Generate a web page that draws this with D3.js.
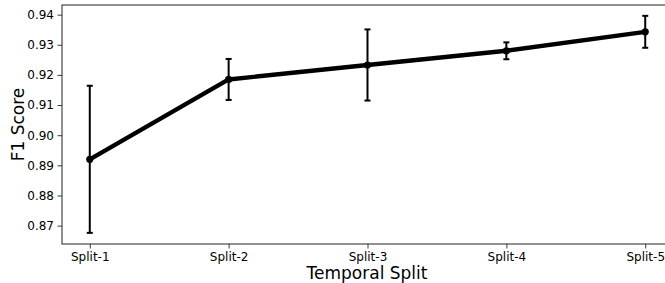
<!DOCTYPE html>
<html>
<head>
<meta charset="utf-8">
<script src="https://cdn.jsdelivr.net/npm/d3@7"></script>
<style>
  body { margin: 0; background: #fff; }
  svg { display: block; font-family: "DejaVu Sans", sans-serif; }
</style>
</head>
<body>
<svg id="chart" width="665" height="283"></svg>
<script>
// values
const splits = ["Split-1", "Split-2", "Split-3", "Split-4", "Split-5"];
const f1Mean = [0.892, 0.9185, 0.9233, 0.928, 0.9343];
const f1Err = [0.0244, 0.0068, 0.0118, 0.0028, 0.0053];
const yTicks = [0.87, 0.88, 0.89, 0.90, 0.91, 0.92, 0.93, 0.94];

const plotL = 62, plotR = 673, plotT = 5, plotB = 244;
const svg = d3.select("#chart");

// matplotlib style 5% margin on both axes
let xScale = d3.scalePoint()
  .domain(splits)
  .range([plotL, plotR])
  .padding(0.2);

let yScale = d3.scaleLinear()
  .domain([0.8639, 0.9432])
  .range([plotB, plotT]);

let data = splits.map((s, i) => ({ s: s, m: f1Mean[i], e: f1Err[i] }));

// error bars
let eb = svg.append("g").attr("stroke", "#000").attr("stroke-width", 2);
eb.selectAll("line.v").data(data).join("line")
  .attr("class", "v")
  .attr("x1", d => xScale(d.s)).attr("x2", d => xScale(d.s))
  .attr("y1", d => yScale(d.m - d.e)).attr("y2", d => yScale(d.m + d.e));
eb.selectAll("line.ct").data(data).join("line")
  .attr("class", "ct")
  .attr("x1", d => xScale(d.s) - 3).attr("x2", d => xScale(d.s) + 3)
  .attr("y1", d => yScale(d.m + d.e)).attr("y2", d => yScale(d.m + d.e));
eb.selectAll("line.cb").data(data).join("line")
  .attr("class", "cb")
  .attr("x1", d => xScale(d.s) - 3).attr("x2", d => xScale(d.s) + 3)
  .attr("y1", d => yScale(d.m - d.e)).attr("y2", d => yScale(d.m - d.e));

// main line
let lineGen = d3.line()
  .x(d => xScale(d.s))
  .y(d => yScale(d.m));
svg.append("path")
  .datum(data)
  .attr("d", lineGen)
  .attr("fill", "none")
  .attr("stroke", "#000")
  .attr("stroke-width", 4.4)
  .attr("stroke-linejoin", "round");

svg.selectAll("circle.pt").data(data).join("circle")
  .attr("class", "pt")
  .attr("cx", d => xScale(d.s))
  .attr("cy", d => yScale(d.m))
  .attr("r", 3.6)
  .attr("fill", "#000");

// axes
let xAxis = svg.append("g")
  .attr("transform", `translate(0,${plotB})`)
  .call(d3.axisBottom(xScale).tickSize(4.5).tickPadding(3.5).tickSizeOuter(0));
let yAxis = svg.append("g")
  .attr("transform", `translate(${plotL},0)`)
  .call(d3.axisLeft(yScale).tickValues(yTicks).tickFormat(d3.format(".2f"))
    .tickSize(4.5).tickPadding(3.5).tickSizeOuter(0));

[xAxis, yAxis].forEach(g => {
  g.selectAll("text").attr("font-size", 12).attr("fill", "#000")
    .attr("font-family", "DejaVu Sans");
  g.selectAll("line").attr("stroke", "#222").attr("stroke-width", 0.9);
  g.select(".domain").remove();
});

// spines
svg.append("rect")
  .attr("x", plotL).attr("y", plotT)
  .attr("width", plotR - plotL).attr("height", plotB - plotT)
  .attr("fill", "none").attr("stroke", "#222").attr("stroke-width", 1);

// axis labels
svg.append("text")
  .attr("x", 367).attr("y", 279)
  .attr("text-anchor", "middle")
  .attr("font-size", 17)
  .text("Temporal Split");

svg.append("text")
  .attr("transform", `translate(24,${(plotT + plotB) / 2}) rotate(-90)`)
  .attr("text-anchor", "middle")
  .attr("font-size", 17)
  .text("F1 Score");
</script>
</body>
</html>
